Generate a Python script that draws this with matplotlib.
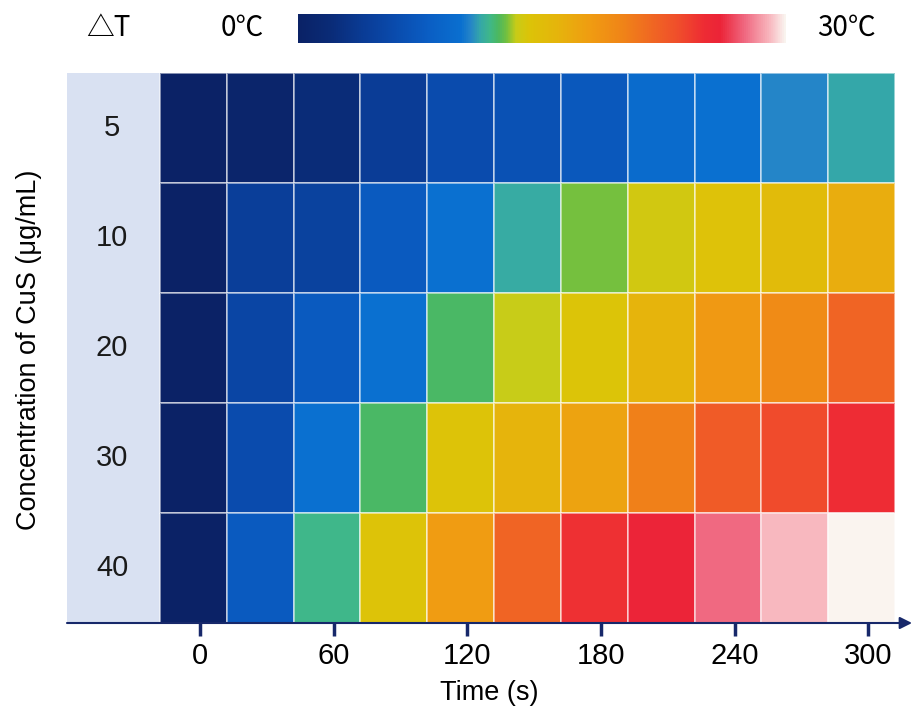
import numpy as np
import matplotlib.pyplot as plt
from matplotlib.colors import LinearSegmentedColormap

# 数据
times = [0, 30, 60, 90, 120, 150, 180, 210, 240, 270, 300]
tick_times = [0, 60, 120, 180, 240, 300]
conc = ['5', '10', '20', '30', '40']
dT_5 = [0, 0.6, 2.0, 4.0, 5.9, 6.6, 7.3, 9.4, 10.0, 10.6, 11.2]
dT_10 = [0, 4.3, 4.8, 7.6, 10.0, 11.3, 12.8, 13.8, 14.5, 15.2, 16.6]
dT_20 = [0, 5.2, 7.6, 10.0, 12.3, 13.4, 14.2, 16.0, 18.2, 19.4, 22.0]
dT_30 = [0, 5.9, 10.0, 12.2, 14.4, 16.0, 17.4, 20.2, 22.5, 23.5, 25.0]
dT_40 = [0, 7.6, 11.8, 14.4, 18.0, 22.0, 24.8, 26.0, 27.5, 29.0, 30.0]

# 色带 (温度, 颜色)
cmap_stops = [
    (0.0, '#0b2266'), (2.0, '#0a2c78'), (4.0, '#0a3c96'), (6.0, '#0a4cae'),
    (8.0, '#0a5ec4'), (10.0, '#0a70d0'), (10.6, '#2585c8'), (11.2, '#35a8a8'),
    (11.8, '#40b888'), (12.3, '#4cb860'), (12.8, '#72c040'), (13.4, '#c8cc18'),
    (14.2, '#dcc408'), (16.0, '#e6b40c'), (18.0, '#f09c12'), (20.0, '#f08418'),
    (22.0, '#f06424'), (23.5, '#f04c2c'), (25.0, '#ee2c34'), (26.0, '#ec2438'),
    (27.5, '#f06880'), (29.0, '#f8b4bc'), (30.0, '#faf4ef'),
]
cmap = LinearSegmentedColormap.from_list(
    'dT', [(v / 30.0, c) for v, c in cmap_stops])

plt.rcParams['font.family'] = ['Liberation Sans', 'DejaVu Sans']

W, H = 916, 708
fig = plt.figure(figsize=(W / 100, H / 100), dpi=100)

# 主图 (像素位置换算)
left_px, right_px, top_px, bot_px = 67, 912, 73, 623
ax = fig.add_axes([left_px / W, 1 - bot_px / H,
                   (right_px - left_px) / W, (bot_px - top_px) / H])

data = np.array([dT_5, dT_10, dT_20, dT_30, dT_40])
ncol = len(times)
nrow = len(conc)
col_px = (895 - 160) / ncol
band_w = (160 - left_px) / col_px
x_right = (right_px - 160) / col_px

ax.pcolormesh(np.arange(ncol + 1), np.arange(nrow + 1), data, cmap=cmap,
              vmin=0, vmax=30, edgecolors=(1, 1, 1, 0.5), linewidth=1.2)
ax.axvspan(-band_w, 0, color='#d9e1f2', zorder=0)
ax.set_xlim(-band_w, x_right)
ax.set_ylim(nrow, 0)

for spine in ax.spines.values():
    spine.set_visible(False)

axis_col = '#17286a'
ax.annotate('', xy=(1.0, 0), xytext=(0, 0), xycoords='axes fraction',
            arrowprops=dict(arrowstyle='-|>', color=axis_col, lw=1.5,
                            mutation_scale=18, shrinkA=0, shrinkB=0))

# 刻度略偏右
ax.set_xticks([times.index(t) + 0.6 for t in tick_times])
ax.set_xticklabels([str(t) for t in tick_times], fontsize=21)
ax.tick_params(axis='x', length=9, width=2.5, color=axis_col, pad=5)
ax.set_yticks([])

for i, c in enumerate(conc):
    ax.text(-band_w / 2 - 0.02, i + 0.5, c, fontsize=21, ha='center',
            va='center', color='#1a1a1a')

ax.set_xlabel('Time (s)', fontsize=19.5, labelpad=7)
fig.text(29 / W, 1 - 350 / H, 'Concentration of CuS (μg/mL)', rotation=90,
         fontsize=19.5, ha='center', va='center')

# 顶部色带
cax = fig.add_axes([298 / W, 1 - 43 / H, (786 - 298) / W, 29 / H])
cax.imshow(np.linspace(0, 30, 512)[None, :], aspect='auto', cmap=cmap,
           vmin=0, vmax=30)
cax.axis('off')

hdr_font = ['Noto Sans CJK SC', 'DejaVu Sans']
fig.text(108 / W, 1 - 28 / H, '△T', fontsize=20, ha='center', va='center',
         family=hdr_font)
fig.text(242 / W, 1 - 28 / H, '0℃', fontsize=20, ha='center', va='center',
         family=hdr_font)
fig.text(846 / W, 1 - 28 / H, '30℃', fontsize=20, ha='center', va='center',
         family=hdr_font)

plt.savefig('out.png', dpi=100)
